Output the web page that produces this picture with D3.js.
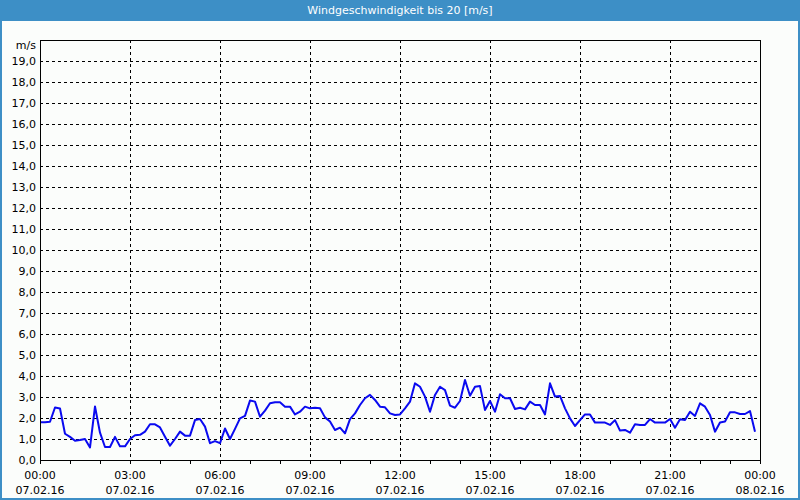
<!DOCTYPE html>
<html>
<head>
<meta charset="utf-8">
<script src="https://cdn.jsdelivr.net/npm/d3@7"></script>
<style>
  html, body { margin: 0; padding: 0; background: #fbfdfb; }
  svg { display: block; }
</style>
</head>
<body>
<svg id="chart" width="800" height="500"></svg>
<script>
const chartTitle = "Windgeschwindigkeit bis 20 [m/s]";
const yUnit = "m/s";
const stepMinutes = 10;
const windSpeed = [
  1.8, 1.8, 1.82, 2.5, 2.45, 1.25, 1.1, 0.92, 0.95, 1.0,
  0.6, 2.55, 1.3, 0.62, 0.62, 1.1, 0.65, 0.65, 1.0, 1.18,
  1.2, 1.35, 1.7, 1.7, 1.55, 1.11, 0.68, 1.0, 1.35, 1.16,
  1.16, 1.9, 1.95, 1.59, 0.8, 0.9, 0.8, 1.5, 1.0, 1.48,
  1.98, 2.1, 2.83, 2.78, 2.06, 2.35, 2.7, 2.75, 2.75, 2.54,
  2.54, 2.17, 2.3, 2.54, 2.46, 2.49, 2.46, 2.03, 1.83, 1.43,
  1.54, 1.27, 1.95, 2.22, 2.62, 2.94, 3.1, 2.86, 2.54, 2.51,
  2.22, 2.14, 2.17, 2.46, 2.78, 3.65, 3.49, 3.02, 2.3, 3.1,
  3.49, 3.33, 2.59, 2.49, 2.81, 3.81, 3.06, 3.49, 3.52, 2.38,
  2.81, 2.3, 3.13, 2.94, 2.94, 2.43, 2.49, 2.41, 2.78, 2.62,
  2.62, 2.17, 3.65, 3.02, 3.05, 2.46, 1.98, 1.62, 1.9, 2.17,
  2.17, 1.78, 1.78, 1.78, 1.67, 1.9, 1.4, 1.43, 1.3, 1.7,
  1.67, 1.67, 1.95, 1.78, 1.78, 1.78, 1.95, 1.54, 1.94, 1.9,
  2.3, 2.1, 2.7, 2.54, 2.14, 1.35, 1.79, 1.83, 2.27, 2.27,
  2.19, 2.19, 2.33, 1.35
];
const xTickHours = [0, 3, 6, 9, 12, 15, 18, 21, 24];
const xTickTimes = ["00:00", "03:00", "06:00", "09:00", "12:00", "15:00", "18:00", "21:00", "00:00"];
const xTickDates = ["07.02.16", "07.02.16", "07.02.16", "07.02.16", "07.02.16", "07.02.16", "07.02.16", "07.02.16", "08.02.16"];
const yTicks = [0, 1, 2, 3, 4, 5, 6, 7, 8, 9, 10, 11, 12, 13, 14, 15, 16, 17, 18, 19];

const W = 800, H = 500;
const m = { left: 40, right: 40, top: 40, bottom: 40 };
const svg = d3.select("#chart");
const font = "DejaVu Sans, Verdana, sans-serif";

// frame background + title bar
svg.append("rect").attr("x", 0).attr("y", 0).attr("width", W).attr("height", H).attr("fill", "#fbfdfb");
svg.append("rect").attr("x", 0).attr("y", 0).attr("width", W).attr("height", 20).attr("fill", "#3d8fc6");
svg.append("rect").attr("x", 1).attr("y", 20).attr("width", W - 2).attr("height", H - 21)
  .attr("fill", "none").attr("stroke", "#3d8fc6").attr("stroke-width", 2);
svg.append("text").attr("x", W / 2).attr("y", 14).attr("text-anchor", "middle")
  .attr("fill", "#ffffff").attr("font-family", font).attr("font-size", 11)
  .text(chartTitle);

const x = d3.scaleLinear().domain([0, 24 * 60]).range([m.left, W - m.right]);
const y = d3.scaleLinear().domain([0, 20]).range([H - m.bottom, m.top]);

// grid
const g = svg.append("g");
g.selectAll(".hg").data(yTicks.filter(d => d > 0)).join("line")
  .attr("x1", m.left).attr("x2", W - m.right)
  .attr("y1", d => Math.round(y(d)) + 0.5).attr("y2", d => Math.round(y(d)) + 0.5)
  .attr("stroke", "#000").attr("stroke-width", 1).attr("stroke-dasharray", "3,3");
g.selectAll(".vg").data(xTickHours.filter(h => h > 0 && h < 24)).join("line")
  .attr("x1", h => Math.round(x(h * 60)) + 0.5).attr("x2", h => Math.round(x(h * 60)) + 0.5)
  .attr("y1", m.top).attr("y2", H - m.bottom)
  .attr("stroke", "#000").attr("stroke-width", 1).attr("stroke-dasharray", "3,3");

// hourly ticks below the axis
const hours = d3.range(0, 25);
g.selectAll(".tk").data(hours).join("line")
  .attr("x1", h => Math.round(x(h * 60)) + 0.5).attr("x2", h => Math.round(x(h * 60)) + 0.5)
  .attr("y1", H - m.bottom).attr("y2", H - m.bottom + 4)
  .attr("stroke", "#000").attr("stroke-width", 1);

// line
const line = d3.line()
  .x((d, i) => x(i * stepMinutes))
  .y(d => y(d));
svg.append("path").datum(windSpeed).attr("d", line)
  .attr("fill", "none").attr("stroke", "#0a0af0").attr("stroke-width", 2)
  .attr("stroke-linejoin", "round");

// plot frame
svg.append("rect").attr("x", m.left + 0.5).attr("y", m.top + 0.5)
  .attr("width", W - m.left - m.right).attr("height", H - m.top - m.bottom)
  .attr("fill", "none").attr("stroke", "#000").attr("stroke-width", 1);

// y labels
const fmt = d => d.toFixed(1).replace(".", ",");
svg.selectAll(".yl").data(yTicks).join("text")
  .attr("x", 36).attr("y", d => y(d) + 4).attr("text-anchor", "end")
  .attr("font-family", font).attr("font-size", 11).attr("fill", "#000")
  .text(fmt);
svg.append("text").attr("x", 36).attr("y", 49).attr("text-anchor", "end")
  .attr("font-family", font).attr("font-size", 11).attr("fill", "#000").text(yUnit);

// x labels
svg.selectAll(".xl").data(xTickHours).join("text")
  .attr("x", (h) => x(h * 60)).attr("y", 479).attr("text-anchor", "middle")
  .attr("font-family", font).attr("font-size", 11).attr("fill", "#000")
  .text((h, i) => xTickTimes[i]);
svg.selectAll(".xd").data(xTickHours).join("text")
  .attr("x", (h) => x(h * 60)).attr("y", 494).attr("text-anchor", "middle")
  .attr("font-family", font).attr("font-size", 11).attr("fill", "#000")
  .text((h, i) => xTickDates[i]);
</script>
</body>
</html>
